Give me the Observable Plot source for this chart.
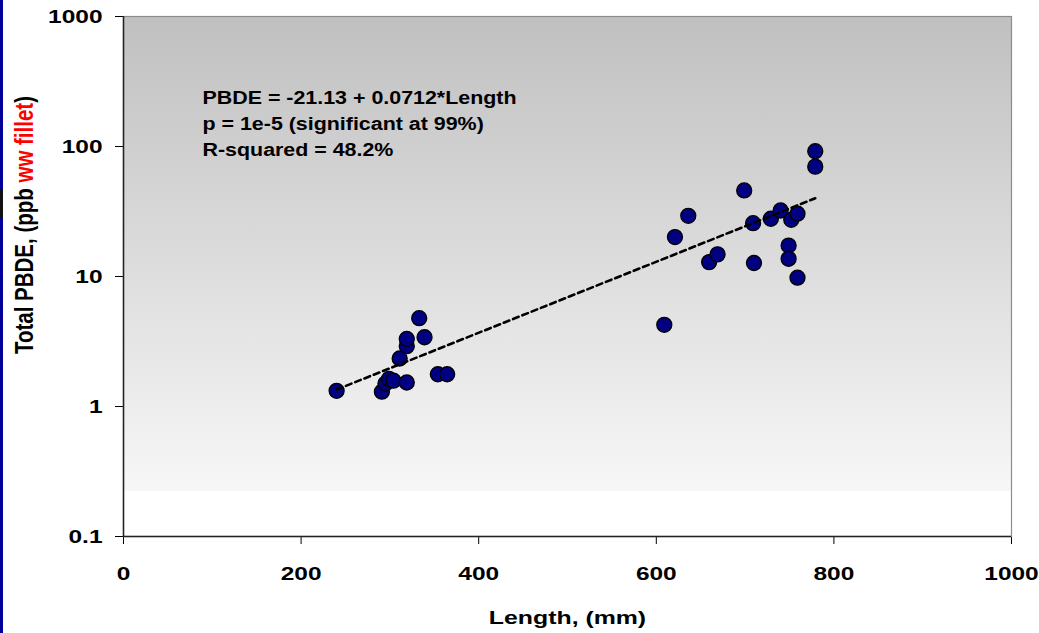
<!DOCTYPE html>
<html>
<head>
<meta charset="utf-8">
<script src="https://cdn.jsdelivr.net/npm/d3@7"></script>
<script src="https://cdn.jsdelivr.net/npm/@observablehq/plot@0.6"></script>
<style>
  html, body { margin: 0; padding: 0; background: #ffffff; }
  #wrap { position: relative; width: 1039px; height: 633px; overflow: hidden; }
  #blueBar { position: absolute; left: 0; top: 0; width: 3px; height: 633px; background: #000099; }
  #blackBit { position: absolute; left: 0; top: 190px; width: 3px; height: 27px; background: #111111; }
  svg { display: block; }
</style>
</head>
<body>
<div id="wrap"><div id="chart"></div><div id="blueBar"></div><div id="blackBit"></div></div>
<script>
// ---- data ----
const lengthMm = [240, 291, 295, 299, 304, 319, 311, 319, 319, 333, 339, 354, 364.5,
                  609, 621, 636, 659.5, 669, 699, 709, 710, 729, 740, 749, 749, 752, 759, 759, 779, 779];
const pbdePpb  = [1.32, 1.30, 1.50, 1.63, 1.58, 1.53, 2.34, 2.91, 3.31, 4.78, 3.41, 1.77, 1.77,
                  4.25, 20.1, 29.3, 12.9, 14.8, 45.9, 25.7, 12.7, 27.8, 32.2, 17.3, 13.7, 27.3, 30.4, 9.8, 92, 70];
const trendLength = [240, 779];
const trendPbde = [1.35, 40];
const xTicks = [0, 200, 400, 600, 800, 1000];
const yTicks = [0.1, 1, 10, 100, 1000];
const annotationLines = [
  "PBDE = -21.13 + 0.0712*Length",
  "p = 1e-5 (significant at 99%)",
  "R-squared = 48.2%"
];
const xLabel = "Length, (mm)";
const yLabelParts = [
  {text: "Total PBDE, (ppb ", color: "#000000"},
  {text: "ww fillet", color: "#ff0000"},
  {text: ")", color: "#000000"}
];

const points = lengthMm.map((x, i) => ({x, y: pbdePpb[i]}));
const trend = trendLength.map((x, i) => ({x, y: trendPbde[i]}));

const chart = Plot.plot({
  width: 1039,
  height: 633,
  marginLeft: 123,
  marginRight: 28,
  marginTop: 16,
  marginBottom: 97,
  style: {
    fontFamily: "'Liberation Sans', Arial, sans-serif",
    fontSize: "18px",
    fontWeight: "bold",
    color: "#000000",
    background: "transparent"
  },
  x: {domain: [0, 1000], ticks: xTicks, tickFormat: d => String(d), label: null, tickSize: 8, tickPadding: 23},
  y: {type: "log", domain: [0.1, 1000], ticks: yTicks, tickFormat: d => String(d), label: null, tickSize: 8, tickPadding: 13},
  marks: [
    Plot.frame({fill: "url(#bgGrad)", stroke: "#8c8c8c", strokeWidth: 1.2}),
    Plot.ruleX([0], {stroke: "#222222", strokeWidth: 1.5}),
    Plot.ruleY([0.1], {stroke: "#222222", strokeWidth: 1.5}),
    Plot.dot(points, {x: "x", y: "y", r: 7.5, fill: "#000080", stroke: "#000000", strokeWidth: 1.3}),
    Plot.line(trend, {x: "x", y: "y", stroke: "#000000", strokeWidth: 2.6, strokeDasharray: "6,4"}),
    Plot.text([annotationLines.join("\n")], {
      frameAnchor: "top-left", dx: 79, dy: 69, lineAnchor: "top", textAnchor: "start",
      lineHeight: 1.44, fontSize: 18, fontWeight: "bold", fill: "#000000", className: "annot"
    }),
    Plot.text([xLabel], {
      frameAnchor: "bottom", dy: 87, lineAnchor: "middle", textAnchor: "middle",
      fontSize: 18, fontWeight: "bold", fill: "#000000", className: "xlab"
    })
  ]
});

document.getElementById("chart").appendChild(chart);
const svg = d3.select(chart);

// gradient background
const defs = svg.insert("defs", ":first-child");
const grad = defs.append("linearGradient").attr("id", "bgGrad")
  .attr("x1", 0).attr("y1", 0).attr("x2", 0).attr("y2", 1);
[[0, "#c0c0c0"], [0.913, "#f7f7f7"], [0.913, "#ffffff"], [1, "#ffffff"]].forEach(([o, c]) =>
  grad.append("stop").attr("offset", o).attr("stop-color", c));

// horizontal stretch to mimic the reference's widened lettering
function stretchKeep(el, sx, oy = 0) {
  const t = el.getAttribute("transform") || "";
  el.setAttribute("transform", `${t} translate(0,${oy}) scale(${sx},1)`);
}
function stretchFlat(el, sx) {
  const t = el.getAttribute("transform") || "";
  el.removeAttribute("x"); el.removeAttribute("y");
  el.setAttribute("transform", `${t} scale(${sx},1)`);
}
chart.querySelectorAll('g[aria-label="y-axis tick label"] text').forEach(el => stretchKeep(el, 1.36, 1));
chart.querySelectorAll('g[aria-label="x-axis tick label"] text').forEach(el => stretchKeep(el, 1.36, 0));
chart.querySelectorAll('.annot text').forEach(el => stretchFlat(el, 1.19));
chart.querySelectorAll('.xlab text').forEach(el => stretchFlat(el, 1.38));

// y-axis title with coloured run
const yl = svg.append("text")
  .attr("transform", "translate(33,225) rotate(-90) scale(1,1.25)")
  .attr("text-anchor", "middle")
  .attr("font-family", "'Liberation Sans', Arial, sans-serif")
  .attr("font-size", 20.5)
  .attr("font-weight", "bold");
yLabelParts.forEach(p => yl.append("tspan").attr("fill", p.color).text(p.text));
</script>
</body>
</html>
